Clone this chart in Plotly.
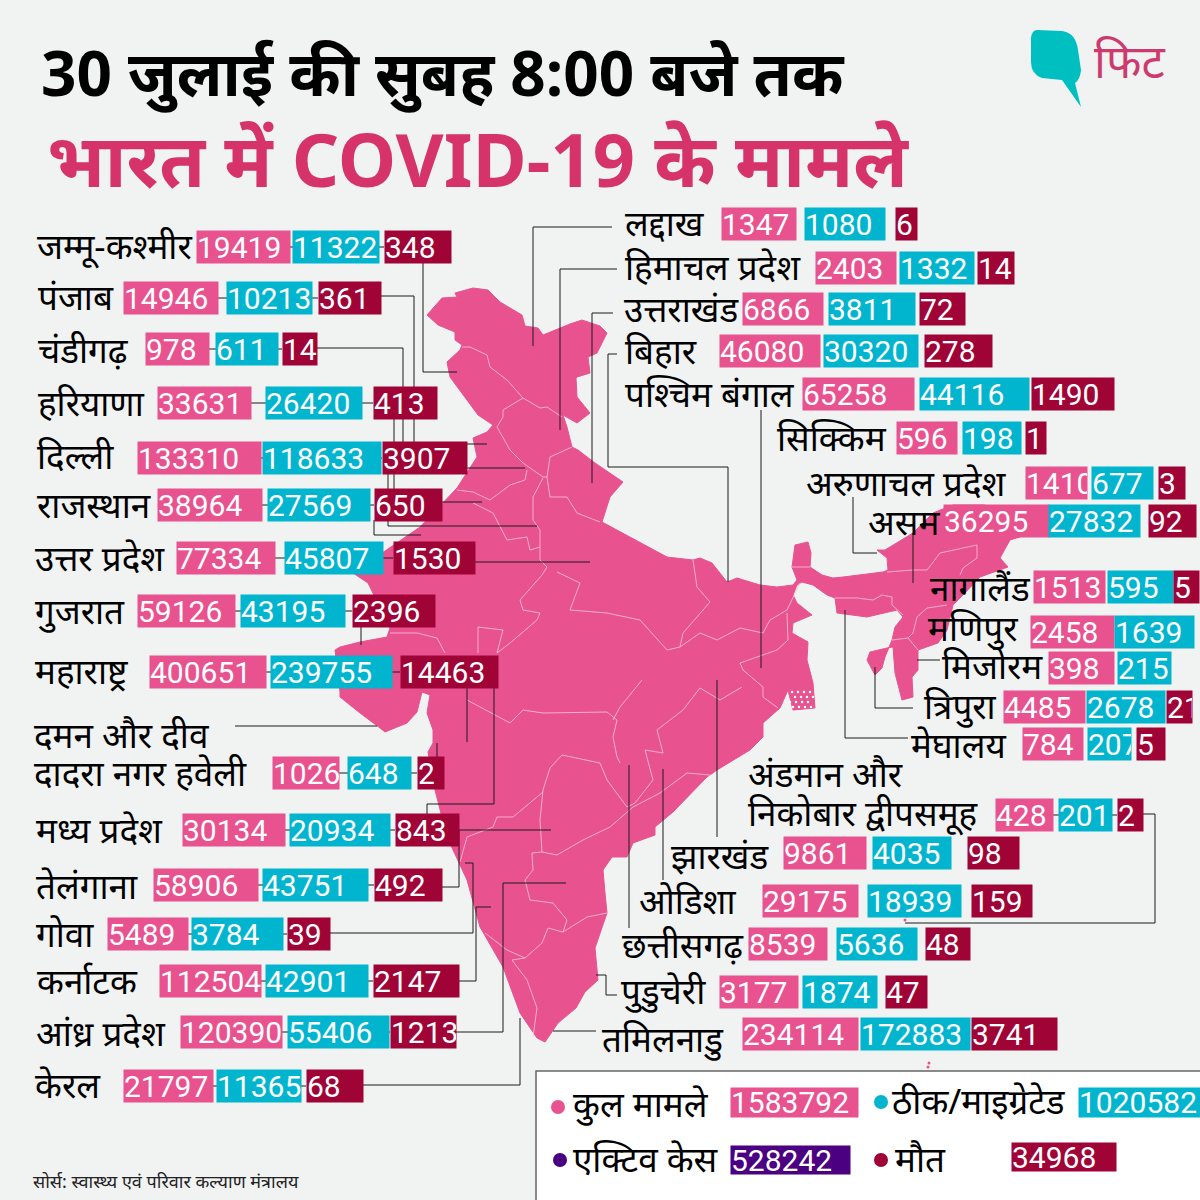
import plotly.graph_objects as go

#colours
BG = '#f1f3f3'
PINK = '#e8538f'
CYAN = '#02b5cf'
MAROON = '#a00437'
PURPLE = '#4b0082'
TITLE_PINK = '#d6336a'
TEAL = '#00bfc1'
NUM_FONT = 'Roboto'
HINDI_FONT = 'Noto Sans, Noto Sans Devanagari, Lato, sans-serif'

#state data
STATES = ['जम्मू-कश्मीर', 'पंजाब', 'चंडीगढ़', 'हरियाणा', 'दिल्ली', 'राजस्थान', 'उत्तर प्रदेश', 'गुजरात', 'महाराष्ट्र',
          'दादरा नगर हवेली', 'मध्य प्रदेश', 'तेलंगाना', 'गोवा', 'कर्नाटक', 'आंध्र प्रदेश', 'केरल',
          'लद्दाख', 'हिमाचल प्रदेश', 'उत्तराखंड', 'बिहार', 'पश्चिम बंगाल', 'सिक्किम', 'अरुणाचल प्रदेश', 'असम',
          'नागालैंड', 'मणिपुर', 'मिजोरम', 'त्रिपुरा', 'मेघालय', 'निकोबार द्वीपसमूह', 'झारखंड', 'ओडिशा', 'छत्तीसगढ़',
          'पुडुचेरी', 'तमिलनाडु']
TOTAL = [19419, 14946, 978, 33631, 133310, 38964, 77334, 59126, 400651,
         1026, 30134, 58906, 5489, 112504, 120390, 21797,
         1347, 2403, 6866, 46080, 65258, 596, 1410, 36295,
         1513, 2458, 398, 4485, 784, 428, 9861, 29175, 8539,
         3177, 234114]
RECOVERED = [11322, 10213, 611, 26420, 118633, 27569, 45807, 43195, 239755,
             648, 20934, 43751, 3784, 42901, 55406, 11365,
             1080, 1332, 3811, 30320, 44116, 198, 677, 27832,
             595, 1639, 215, 2678, 207, 201, 4035, 18939, 5636,
             1874, 172883]
DEATHS = [348, 361, 14, 413, 3907, 650, 1530, 2396, 14463,
          2, 843, 492, 39, 2147, 1213, 68,
          6, 14, 72, 278, 1490, 1, 3, 92,
          5, None, None, 21, 5, 2, 98, 159, 48,
          47, 3741]

#where each row sits on the page
NAME_X = [35, 36, 36, 36, 35, 35, 33, 33, 33, 32, 34, 34, 34, 35, 34, 33,
          623, 623, 622, 623, 623, 775, 804, 866, 928, 926, 940, 922, 909, 746, 669, 637, 620, 619, 600]
NAME_Y = [245, 296, 349, 402, 455, 504, 557, 610, 670, 772, 829, 885, 933, 980, 1032, 1084,
          222, 266, 308, 350, 393, 437, 482, 521, 587, 627, 665, 705, 744, 812, 855, 900, 944, 990, 1038]
ROW_Y = [247, 298, 349, 403, 458, 505, 558, 611, 672, 773, 830, 885, 934, 981, 1032, 1086,
         224, 268, 309, 351, 394, 438, 483, 521, 587, 632, 668, 707, 744, 815, 853, 901, 944, 992, 1034]
TOTAL_BOX = [(196, 289), (123, 217), (145, 208), (157, 250), (137, 260), (157, 261), (176, 274), (137, 234), (149, 265),
             (272, 338), (182, 284), (153, 257), (107, 187), (159, 260), (180, 281), (123, 212),
             (721, 795), (815, 895), (742, 822), (719, 819), (802, 913), (896, 956), (1025, 1086), (943, 1048),
             (1033, 1104), (1030, 1113), (1048, 1113), (1003, 1084), (1022, 1082), (995, 1052), (783, 865), (762, 857),
             (748, 826), (719, 797), (742, 857)]
REC_BOX = [(292, 378), (226, 311), (215, 277), (265, 361), (262, 380), (267, 369), (284, 382), (240, 344), (270, 391),
           (347, 410), (289, 389), (262, 367), (191, 282), (265, 367), (287, 388), (216, 300),
           (804, 884), (899, 973), (828, 914), (823, 917), (919, 1028), (962, 1020), (1091, 1152), (1048, 1139),
           (1107, 1172), (1114, 1193), (1117, 1170), (1086, 1164), (1087, 1130), (1058, 1111), (872, 950), (867, 960),
           (836, 916), (802, 876), (860, 969)]
DEATH_BOX = [(384, 450), (318, 380), (282, 316), (373, 436), (382, 466), (374, 441), (393, 474), (352, 434), (400, 497),
             (417, 443), (395, 458), (374, 441), (287, 329), (373, 458), (390, 455), (306, 362),
             (895, 916), (977, 1013), (919, 964), (924, 991), (1031, 1113), (1025, 1045), (1158, 1184), (1148, 1195),
             (1173, 1198), None, None, (1166, 1191), (1136, 1164), (1117, 1142), (967, 1018), (971, 1031),
             (925, 969), (885, 926), (971, 1056)]
LEFT_ROWS = 16

#legend
LEGEND_NAMES = ['कुल मामले', 'ठीक/माइग्रेटेड', 'एक्टिव केस', 'मौत']
LEGEND_VALUES = [1583792, 1020582, 528242, 34968]
LEGEND_COLORS = [PINK, CYAN, PURPLE, MAROON]
LEGEND_DOT_X = [558, 881, 560, 881]
LEGEND_DOT_Y = [1107, 1102, 1160, 1160]
LEGEND_NAME_X = [571, 890, 571, 893]
LEGEND_NAME_Y = [1103, 1100, 1158, 1158]
LEGEND_BOX = [(730, 857, 1088, 1117), (1078, 1200, 1088, 1117), (730, 849, 1146, 1174), (1011, 1115, 1143, 1171)]

#map outline, page pixels
MAP_X = [427, 442, 457, 455, 473, 488, 500, 522, 525, 538, 543, 570, 582, 600, 607, 597, 588, 590, 577, 576, 577, 590,
         577, 563, 567, 572, 578, 595, 623, 610, 602, 640, 667, 693, 700, 712, 727, 737, 760, 777, 793, 797, 792, 795,
         808, 811, 810, 822, 833, 843, 883, 888, 887, 877, 885, 913, 933, 953, 985, 1010, 1020, 1010, 1000, 1008, 980,
         963, 953, 947, 938, 918, 918, 912, 913, 902, 895, 893, 887, 870, 867, 875, 882, 885, 892, 895, 903, 897, 867,
         837, 835, 827, 813, 802, 797, 793, 797, 812, 793, 792, 808, 807, 813, 815, 793, 788, 780, 763, 763, 750, 717,
         707, 673, 655, 655, 633, 627, 612, 603, 605, 607, 595, 597, 598, 585, 576, 558, 545, 537, 520, 503, 480, 467,
         447, 435, 428, 433, 433, 427, 430, 422, 417, 407, 385, 380, 360, 340, 340, 338, 335, 340, 360, 387, 390, 368,
         353, 420, 457, 477, 473, 487, 493, 478, 467, 450, 447, 460, 462, 455, 455, 438]
MAP_Y = [315, 298, 297, 293, 288, 290, 302, 315, 326, 328, 335, 324, 320, 326, 333, 353, 357, 373, 377, 378, 397, 413,
         423, 415, 427, 447, 450, 463, 482, 497, 522, 542, 557, 560, 558, 563, 582, 578, 585, 587, 585, 580, 567, 545,
         542, 553, 567, 575, 578, 577, 572, 570, 558, 550, 550, 533, 513, 505, 505, 525, 537, 540, 558, 567, 577,
         595, 605, 630, 643, 650, 670, 677, 697, 700, 673, 647, 648, 652, 660, 675, 668, 657, 640, 627, 617, 610, 617,
         613, 598, 595, 585, 582, 585, 595, 603, 615, 623, 633, 642, 660, 683, 708, 710, 690, 708, 723, 737, 750, 770,
         777, 812, 827, 835, 843, 857, 857, 870, 893, 913, 948, 967, 980, 992, 1008, 1023, 1042, 1038, 1013, 967, 927, 880,
         837, 790, 752, 743, 730, 713, 695, 692, 712, 723, 732, 728, 713, 697, 692, 672, 650, 647, 642, 637, 628, 583,
         573, 527, 488, 457, 438, 432, 425, 415, 400, 377, 362, 350, 345, 340, 332, 325]

#islands and the delta specks
SPECK_X = [907, 905, 929, 928]
SPECK_Y = [916, 920, 1063, 1067]
DELTA_X = [792, 798, 804, 810, 795, 801, 807, 813, 790, 796, 802, 808, 793, 799, 805, 811]
DELTA_Y = [692, 692, 692, 692, 697, 697, 697, 697, 702, 702, 702, 702, 707, 707, 707, 707]

#state borders inside the map, each one a run of points
BORDERS = [
    [(462, 347), (470, 347), (487, 355), (490, 367), (507, 380), (523, 398), (540, 408), (547, 407), (562, 417)],
    [(523, 398), (503, 410), (503, 417), (497, 427), (510, 450), (523, 463), (543, 477)],
    [(572, 447), (550, 457), (547, 477), (543, 477)],
    [(547, 477), (550, 497), (567, 497), (577, 513), (600, 522)],
    [(543, 478), (533, 497), (533, 520), (540, 530), (540, 547), (540, 560), (547, 567), (542, 575)],
    [(527, 470), (525, 480), (510, 485), (490, 500), (473, 492), (457, 490)],
    [(473, 503), (493, 513), (507, 540), (527, 537), (530, 550), (540, 547)],
    [(390, 633), (417, 633), (437, 638), (445, 653)],
    [(542, 575), (520, 600), (523, 610), (540, 613), (537, 620), (510, 643), (497, 653), (503, 630), (478, 627), (478, 653)],
    [(557, 572), (580, 583), (570, 610), (607, 613), (640, 620), (667, 650), (680, 647), (683, 633), (710, 602), (697, 587), (693, 560)],
    [(680, 647), (700, 633), (717, 640), (740, 628), (763, 633), (770, 620), (787, 610), (800, 583)],
    [(787, 613), (788, 640), (777, 650), (740, 663), (743, 670), (763, 687), (763, 697), (778, 708)],
    [(742, 687), (720, 700), (700, 688), (683, 710), (657, 730), (663, 753), (645, 750), (653, 780), (635, 803), (627, 807)],
    [(467, 700), (510, 723), (523, 710), (543, 713), (607, 712), (617, 720), (613, 737), (617, 757), (620, 763)],
    [(642, 680), (620, 707), (613, 720)],
    [(562, 755), (600, 763), (607, 780), (627, 807)],
    [(562, 755), (550, 768), (543, 790), (540, 820), (542, 852)],
    [(543, 792), (513, 817), (497, 817), (493, 827), (467, 837), (460, 862)],
    [(542, 852), (532, 853), (533, 870), (525, 880), (530, 900), (553, 903), (567, 920), (563, 932), (587, 917), (607, 913)],
    [(542, 852), (557, 855), (583, 840), (610, 827), (633, 807), (660, 793), (687, 773), (710, 775)],
    [(563, 932), (548, 928), (542, 943), (525, 958), (512, 960), (527, 980), (537, 1008), (533, 1037)],
    [(485, 933), (507, 950), (525, 958)],
    [(792, 567), (810, 567)],
    [(887, 572), (913, 570), (927, 570), (940, 553), (977, 545), (977, 558), (963, 568), (960, 575)],
    [(835, 598), (857, 598), (873, 600), (882, 595), (892, 597), (892, 605), (903, 615)],
    [(917, 617), (927, 608), (947, 605)],
    [(917, 617), (913, 633), (908, 638), (892, 640)],
    [(908, 638), (918, 650)],
]

#thin black leader lines from the rows to the map
LEADERS = [
    [(423, 262), (423, 372), (457, 372)],
    [(380, 296), (414, 296), (414, 443)],
    [(466, 444), (487, 444)],
    [(316, 348), (403, 348), (403, 443)],
    [(467, 468), (525, 468)],
    [(394, 418), (394, 490)],
    [(442, 502), (482, 502)],
    [(388, 473), (388, 526), (537, 526)],
    [(374, 520), (374, 535), (421, 535)],
    [(474, 562), (590, 562)],
    [(361, 627), (361, 645)],
    [(467, 688), (467, 742)],
    [(494, 687), (494, 804), (427, 804), (427, 815)],
    [(235, 726), (377, 726)],
    [(437, 743), (437, 757)],
    [(458, 830), (551, 830)],
    [(459, 830), (459, 887), (440, 887)],
    [(329, 933), (473, 933), (473, 863), (465, 863)],
    [(458, 981), (476, 981), (476, 907), (491, 907)],
    [(455, 1032), (503, 1032), (503, 883), (566, 883)],
    [(361, 1085), (520, 1085), (520, 1018)],
    [(612, 227), (533, 227), (533, 346)],
    [(617, 269), (560, 269), (560, 430)],
    [(613, 313), (592, 313), (592, 483)],
    [(617, 354), (608, 354), (608, 467), (728, 467), (728, 582)],
    [(761, 410), (761, 668)],
    [(853, 497), (853, 553), (877, 553)],
    [(913, 533), (913, 583)],
    [(917, 660), (940, 660)],
    [(875, 667), (875, 708), (913, 708)],
    [(845, 610), (845, 738), (908, 738)],
    [(717, 680), (717, 837)],
    [(663, 769), (663, 880)],
    [(629, 765), (629, 928)],
    [(596, 975), (606, 975), (606, 995), (617, 995)],
    [(553, 1031), (596, 1031)],
    [(1142, 814), (1155, 814), (1155, 923), (905, 923)],
    [(1052, 815), (1117, 815)],
]

#short ticks between the boxes on the left hand rows
for i in range(LEFT_ROWS):
    LEADERS.append([(TOTAL_BOX[i][1], ROW_Y[i]), (DEATH_BOX[i][0], ROW_Y[i])])


def runs_to_xy(runs):
    xs, ys = [], []
    for run in runs:
        xs += [p[0] for p in run] + [None]
        ys += [p[1] for p in run] + [None]
    return xs, ys


fig = go.Figure()

#map
fig.add_trace(go.Scatter(x=MAP_X + MAP_X[:1], y=MAP_Y + MAP_Y[:1], mode='lines', fill='toself', fillcolor=PINK,
                         line=dict(color=PINK, width=1), hoverinfo='skip'))
bx, by = runs_to_xy(BORDERS)
fig.add_trace(go.Scatter(x=bx, y=by, mode='lines', line=dict(color='#f9c4da', width=0.8), hoverinfo='skip'))
fig.add_trace(go.Scatter(x=DELTA_X, y=DELTA_Y, mode='markers', marker=dict(color='white', size=2.5), hoverinfo='skip'))
fig.add_trace(go.Scatter(x=SPECK_X, y=SPECK_Y, mode='markers', marker=dict(color=PINK, size=3), hoverinfo='skip'))
lx, ly = runs_to_xy(LEADERS)
fig.add_trace(go.Scatter(x=lx, y=ly, mode='lines', line=dict(color='#1a1a1a', width=1), hoverinfo='skip'))

#legend dots
fig.add_trace(go.Scatter(x=LEGEND_DOT_X, y=LEGEND_DOT_Y, mode='markers',
                         marker=dict(color=LEGEND_COLORS, size=14), hoverinfo='skip'))

annotations = []


def add_text(x, y, text, size, color='black', weight=None, family=HINDI_FONT):
    annotations.append(dict(x=x, y=y, text=text, showarrow=False, xanchor='left', yanchor='middle',
                            font=dict(family=family, size=size, color=color, weight=weight)))


def add_box(box, y, value, color, h=32, size=30):
    #annotation with a fixed width clips its text, same as the neighbouring boxes do in the picture
    annotations.append(dict(x=box[0], y=y, text=str(value), showarrow=False, xanchor='left', yanchor='middle',
                            width=box[1] - box[0], height=h, align='left', valign='middle', bgcolor=color, borderpad=0,
                            font=dict(family=NUM_FONT, size=size, color='white')))


for i in range(len(STATES)):
    add_text(NAME_X[i], NAME_Y[i], STATES[i], 35)
    add_box(TOTAL_BOX[i], ROW_Y[i], TOTAL[i], PINK)
    add_box(REC_BOX[i], ROW_Y[i], RECOVERED[i], CYAN)
    if DEATHS[i] is not None:
        add_box(DEATH_BOX[i], ROW_Y[i], DEATHS[i], MAROON)

#two line names
add_text(32, 734, 'दमन और दीव', 35)
add_text(746, 773, 'अंडमान और', 35)

#titles
add_text(39, 72, '30 जुलाई की सुबह 8:00 बजे तक', 62, weight='bold')
add_text(45, 158, 'भारत में COVID-19 के मामले', 74, color=TITLE_PINK, weight='bold')
add_text(1092, 60, 'फिट', 46, color='#cc3a6e')
add_text(31, 1181, 'सोर्स: स्वास्थ्य एवं परिवार कल्याण मंत्रालय', 18, color='#222222')

#legend text
for i in range(4):
    add_text(LEGEND_NAME_X[i], LEGEND_NAME_Y[i], LEGEND_NAMES[i], 35)
    b = LEGEND_BOX[i]
    add_box((b[0], b[1]), (b[2] + b[3]) / 2, LEGEND_VALUES[i], LEGEND_COLORS[i], h=b[3] - b[2], size=30)

shapes = [
    dict(type='rect', x0=536, x1=1201, y0=1071, y1=1201, fillcolor='white', line=dict(color='#666666', width=1.5), layer='below'),
    #logo speech bubble
    dict(type='path', path='M 1037 30 L 1062 31 Q 1076 33 1078 50 L 1081 70 Q 1080 80 1075 83 L 1081 107 L 1062 80 L 1042 78 '
                           'Q 1031 74 1031 62 L 1031 38 Q 1032 30 1037 30 Z',
         fillcolor=TEAL, line=dict(width=0), layer='below'),
]

fig.update_layout(width=1200, height=1200, margin=dict(l=0, r=0, t=0, b=0), paper_bgcolor=BG, plot_bgcolor=BG,
                  showlegend=False, annotations=annotations, shapes=shapes,
                  xaxis=dict(range=[0, 1200], visible=False, fixedrange=True),
                  yaxis=dict(range=[1200, 0], visible=False, fixedrange=True))

fig.write_html("out.html", config=dict(displayModeBar=False), post_script="document.body.style.margin='0';")
